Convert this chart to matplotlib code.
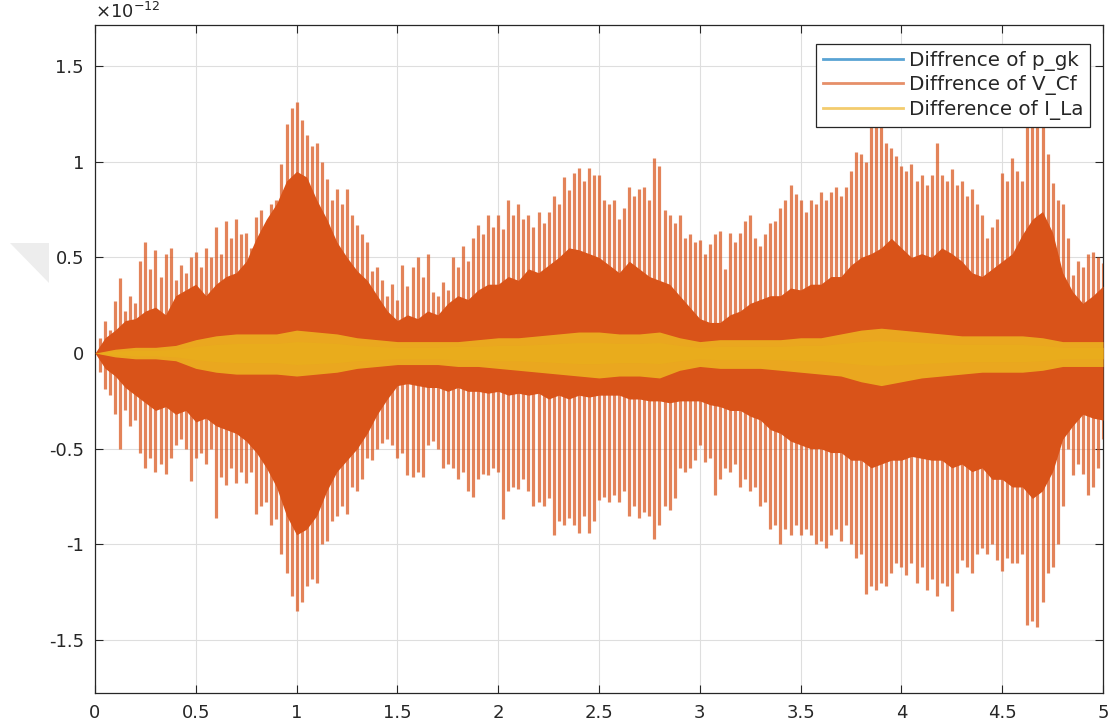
import matplotlib
matplotlib.use("Agg")
import matplotlib.pyplot as plt
from matplotlib.lines import Line2D
from matplotlib.patches import Polygon
import numpy as np

plt.rcParams['font.family'] = ['DejaVu Sans']
plt.rcParams['mathtext.fontset'] = 'dejavusans'

# ---------------- data (values in units of 1e-12) ----------------
# time of the individual V_Cf oscillation spikes (0 .. 5 s, every 0.025 s)
t_spk = np.round(np.arange(0, 201) * 0.025, 3)

vcf_peak_up = [
    0.00, 0.08, 0.17, 0.12, 0.27, 0.39, 0.22, 0.30, 0.26, 0.48,
    0.58, 0.44, 0.54, 0.40, 0.52, 0.55, 0.38, 0.46, 0.42, 0.50,
    0.53, 0.45, 0.55, 0.50, 0.66, 0.52, 0.69, 0.60, 0.70, 0.62,
    0.63, 0.55, 0.71, 0.75, 0.66, 0.78, 0.80, 0.99, 1.20, 1.28,
    1.31, 1.22, 1.14, 1.08, 1.10, 1.00, 0.91, 0.80, 0.86, 0.78,
    0.86, 0.72, 0.67, 0.62, 0.58, 0.43, 0.45, 0.38, 0.30, 0.36,
    0.28, 0.46, 0.35, 0.45, 0.50, 0.40, 0.52, 0.32, 0.30, 0.37,
    0.33, 0.50, 0.45, 0.56, 0.48, 0.60, 0.67, 0.62, 0.72, 0.66,
    0.72, 0.65, 0.80, 0.72, 0.78, 0.70, 0.72, 0.66, 0.74, 0.68,
    0.74, 0.82, 0.78, 0.92, 0.85, 0.94, 0.97, 0.90, 0.97, 0.93,
    0.93, 0.80, 0.78, 0.80, 0.70, 0.76, 0.87, 0.82, 0.86, 0.87,
    0.80, 1.02, 0.98, 0.75, 0.72, 0.68, 0.72, 0.60, 0.62, 0.58,
    0.59, 0.52, 0.57, 0.62, 0.64, 0.44, 0.63, 0.58, 0.63, 0.69,
    0.72, 0.60, 0.56, 0.62, 0.68, 0.69, 0.76, 0.80, 0.88, 0.83,
    0.80, 0.74, 0.80, 0.78, 0.84, 0.80, 0.84, 0.87, 0.82, 0.87,
    0.95, 1.05, 1.04, 1.00, 1.18, 1.25, 1.20, 1.10, 1.07, 1.03,
    0.98, 0.95, 0.99, 0.90, 0.93, 0.88, 0.93, 1.10, 0.93, 0.90,
    0.96, 0.88, 0.90, 0.82, 0.86, 0.78, 0.72, 0.60, 0.66, 0.70,
    0.94, 0.90, 1.02, 0.95, 0.90, 1.20, 1.30, 1.37, 1.25, 1.04,
    0.89, 0.80, 0.78, 0.60, 0.41, 0.48, 0.45, 0.52, 0.53, 0.50,
    0.47,
]
vcf_peak_lo = [
    0.00, -0.10, -0.19, -0.22, -0.32, -0.50, -0.30, -0.38, -0.35, -0.52,
    -0.60, -0.55, -0.62, -0.58, -0.63, -0.55, -0.48, -0.45, -0.50, -0.67,
    -0.55, -0.52, -0.58, -0.50, -0.86, -0.65, -0.69, -0.60, -0.68, -0.62,
    -0.68, -0.62, -0.84, -0.80, -0.78, -0.90, -0.87, -1.05, -1.15, -1.27,
    -1.35, -1.30, -1.22, -1.18, -1.20, -1.00, -0.98, -0.88, -0.85, -0.80,
    -0.84, -0.70, -0.72, -0.66, -0.55, -0.56, -0.50, -0.47, -0.45, -0.48,
    -0.55, -0.52, -0.64, -0.65, -0.62, -0.65, -0.48, -0.46, -0.50, -0.60,
    -0.58, -0.60, -0.66, -0.62, -0.72, -0.75, -0.66, -0.63, -0.64, -0.60,
    -0.62, -0.87, -0.72, -0.70, -0.71, -0.66, -0.72, -0.80, -0.78, -0.80,
    -0.76, -0.95, -0.88, -0.90, -0.86, -0.90, -0.94, -0.85, -0.94, -0.88,
    -0.77, -0.75, -0.78, -0.74, -0.78, -0.72, -0.85, -0.80, -0.86, -0.83,
    -0.85, -0.97, -0.90, -0.80, -0.82, -0.76, -0.60, -0.62, -0.60, -0.56,
    -0.48, -0.57, -0.55, -0.74, -0.66, -0.60, -0.62, -0.58, -0.70, -0.66,
    -0.72, -0.70, -0.80, -0.78, -0.92, -0.90, -1.00, -0.92, -0.95, -0.90,
    -0.95, -0.92, -0.95, -1.00, -0.98, -1.02, -0.95, -0.92, -0.98, -0.90,
    -1.00, -1.07, -1.05, -1.26, -1.22, -1.24, -1.20, -1.22, -1.15, -1.10,
    -1.12, -1.16, -1.10, -1.20, -1.12, -1.24, -1.18, -1.27, -1.20, -1.22,
    -1.35, -1.15, -1.08, -1.12, -1.15, -1.05, -1.02, -1.05, -1.00, -1.08,
    -1.14, -1.07, -1.10, -1.10, -1.05, -1.42, -1.40, -1.43, -1.30, -1.15,
    -1.12, -1.00, -0.80, -0.50, -0.64, -0.58, -0.63, -0.74, -0.70, -0.60,
    -0.45,
]

# dense (solid) part of V_Cf, 0 .. 5 s every 0.05 s
t_core = np.round(np.arange(0, 101) * 0.05, 3)
vcf_core_up = [
    0.00, 0.08, 0.12, 0.17, 0.18, 0.22, 0.24, 0.20, 0.30, 0.33,
    0.36, 0.30, 0.36, 0.40, 0.42, 0.48, 0.60, 0.70, 0.78, 0.90,
    0.95, 0.92, 0.80, 0.70, 0.58, 0.50, 0.43, 0.38, 0.30, 0.22,
    0.17, 0.20, 0.18, 0.22, 0.20, 0.26, 0.30, 0.28, 0.33, 0.36,
    0.36, 0.40, 0.38, 0.44, 0.42, 0.46, 0.50, 0.55, 0.54, 0.52,
    0.50, 0.46, 0.42, 0.48, 0.44, 0.40, 0.38, 0.36, 0.30, 0.24,
    0.18, 0.16, 0.16, 0.20, 0.22, 0.26, 0.28, 0.30, 0.30, 0.34,
    0.33, 0.36, 0.36, 0.40, 0.40, 0.46, 0.50, 0.52, 0.55, 0.60,
    0.55, 0.50, 0.52, 0.50, 0.55, 0.52, 0.48, 0.42, 0.40, 0.44,
    0.48, 0.52, 0.62, 0.70, 0.74, 0.63, 0.42, 0.32, 0.26, 0.30,
    0.35,
]
vcf_core_lo = [
    0.00, -0.08, -0.12, -0.18, -0.22, -0.26, -0.30, -0.28, -0.32, -0.30,
    -0.36, -0.34, -0.38, -0.40, -0.42, -0.46, -0.52, -0.60, -0.70, -0.85,
    -0.95, -0.92, -0.85, -0.72, -0.62, -0.56, -0.50, -0.42, -0.32, -0.24,
    -0.17, -0.16, -0.17, -0.18, -0.18, -0.20, -0.18, -0.20, -0.20, -0.21,
    -0.20, -0.22, -0.21, -0.22, -0.21, -0.24, -0.22, -0.24, -0.22, -0.23,
    -0.22, -0.22, -0.22, -0.24, -0.24, -0.25, -0.25, -0.26, -0.25, -0.25,
    -0.25, -0.27, -0.28, -0.30, -0.30, -0.33, -0.35, -0.40, -0.42, -0.46,
    -0.48, -0.50, -0.50, -0.52, -0.52, -0.56, -0.56, -0.60, -0.58, -0.56,
    -0.56, -0.54, -0.55, -0.56, -0.56, -0.60, -0.58, -0.62, -0.60, -0.66,
    -0.66, -0.70, -0.70, -0.76, -0.72, -0.62, -0.45, -0.38, -0.32, -0.34,
    -0.35,
]

# I_La band and p_gk, 0 .. 5 s every 0.1 s
t_env = np.round(np.arange(0, 51) * 0.1, 2)
ila_up = [
    0.00, 0.02, 0.03, 0.03, 0.04, 0.07, 0.09, 0.10, 0.10, 0.10,
    0.12, 0.11, 0.10, 0.08, 0.07, 0.06, 0.06, 0.06, 0.06, 0.07,
    0.08, 0.08, 0.09, 0.10, 0.11, 0.11, 0.10, 0.10, 0.11, 0.08,
    0.06, 0.07, 0.07, 0.07, 0.07, 0.08, 0.08, 0.10, 0.12, 0.13,
    0.12, 0.11, 0.10, 0.09, 0.09, 0.09, 0.09, 0.08, 0.06, 0.06,
    0.06,
]
ila_lo = [
    0.00, -0.02, -0.03, -0.03, -0.04, -0.08, -0.10, -0.11, -0.11, -0.11,
    -0.12, -0.11, -0.10, -0.08, -0.07, -0.06, -0.06, -0.06, -0.07, -0.07,
    -0.08, -0.09, -0.10, -0.11, -0.12, -0.13, -0.12, -0.12, -0.13, -0.09,
    -0.07, -0.08, -0.08, -0.08, -0.09, -0.10, -0.11, -0.12, -0.15, -0.17,
    -0.15, -0.13, -0.12, -0.11, -0.10, -0.10, -0.10, -0.09, -0.07, -0.07,
    -0.07,
]
ila_core = [
    0.00, 0.010, 0.015, 0.015, 0.020, 0.035, 0.045, 0.050, 0.050, 0.050,
    0.060, 0.055, 0.050, 0.040, 0.035, 0.030, 0.030, 0.030, 0.035, 0.035,
    0.040, 0.040, 0.045, 0.050, 0.055, 0.055, 0.050, 0.050, 0.055, 0.040,
    0.030, 0.035, 0.035, 0.035, 0.035, 0.040, 0.040, 0.050, 0.060, 0.065,
    0.060, 0.055, 0.050, 0.045, 0.045, 0.045, 0.045, 0.040, 0.030, 0.030,
    0.030,
]
pgk = [0.0] * 51

labels = ['Diffrence of p_gk', 'Diffrence of V_Cf', 'Difference of I_La']
xticks = [0, 0.5, 1, 1.5, 2, 2.5, 3, 3.5, 4, 4.5, 5]
xticklabels = ['0', '0.5', '1', '1.5', '2', '2.5', '3', '3.5', '4', '4.5', '5']
yticks = [-1.5, -1, -0.5, 0, 0.5, 1, 1.5]
yticklabels = ['-1.5', '-1', '-0.5', '0', '0.5', '1', '1.5']

C_BLUE = '#0072BD'
C_ORANGE = '#D95319'
C_YELLOW = '#EDB120'
C_TXT = '#262626'

# ---------------- figure ----------------
fig = plt.figure(figsize=(11.13, 7.27), dpi=100)
ax = fig.add_axes([95 / 1113, 1 - 693 / 727, 1008 / 1113, 668 / 727])

# gray corner artifact of the screenshot
fig.patches.append(Polygon([[10 / 1113, 484 / 727], [49 / 1113, 484 / 727], [49 / 1113, 444 / 727]],
                           closed=True, transform=fig.transFigure, facecolor='#EDEDED',
                           edgecolor='none', zorder=0))

ax.plot(t_env, pgk, color=C_BLUE, lw=1.0, zorder=2)
ax.vlines(t_spk, vcf_peak_lo, vcf_peak_up, colors=C_ORANGE, lw=2.3, alpha=0.72, zorder=3)
ax.fill_between(t_core, vcf_core_lo, vcf_core_up, color=C_ORANGE, lw=0, zorder=4)
ax.fill_between(t_env, ila_lo, ila_up, color=C_YELLOW, alpha=0.9, lw=0, zorder=5)
ax.fill_between(t_env, [-v for v in ila_core], ila_core, color='#E9AC1C', lw=0, zorder=6)

ax.set_xlim(0, 5)
ax.set_ylim(-1.777, 1.715)
ax.set_xticks(xticks)
ax.set_xticklabels(xticklabels)
ax.set_yticks(yticks)
ax.set_yticklabels(yticklabels)
ax.tick_params(direction='in', length=6, width=0.8, colors=C_TXT, labelsize=13,
               top=True, right=True, pad=8)
for s in ax.spines.values():
    s.set_color(C_TXT)
    s.set_linewidth(0.9)
ax.grid(True, color='#DEDEDE', lw=0.8)
ax.set_axisbelow(True)

ax.text(0.0, 1.004, r'$\times10^{-12}$', transform=ax.transAxes,
        ha='left', va='bottom', fontsize=13, color=C_TXT)

handles = [Line2D([], [], color=C_BLUE, lw=2, alpha=0.65),
           Line2D([], [], color=C_ORANGE, lw=2, alpha=0.65),
           Line2D([], [], color=C_YELLOW, lw=2, alpha=0.65)]
leg = ax.legend(handles, labels, loc='upper right', bbox_to_anchor=(0.987, 0.9716),
                fontsize=14.3, frameon=True, fancybox=False, framealpha=1,
                edgecolor=C_TXT, handlelength=4.0, handletextpad=0.3,
                borderpad=0.35, labelspacing=0.22, borderaxespad=0)
leg.get_frame().set_linewidth(0.9)
for txt in leg.get_texts():
    txt.set_color(C_TXT)
leg.set_zorder(10)

fig.savefig('out.png', dpi=100)
